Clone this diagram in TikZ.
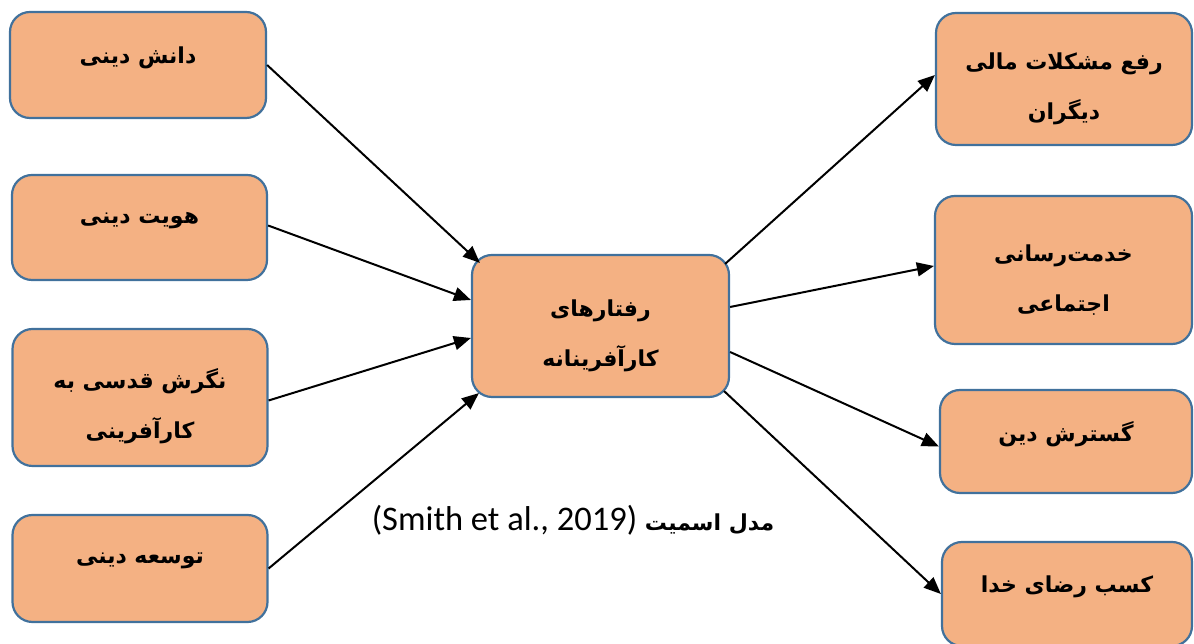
\documentclass[tikz,border=0pt]{standalone}
\usepackage{fontspec}
\usetikzlibrary{arrows.meta,calc}
\TeXXeTstate=1
\newfontfamily\fa[Script=Arabic]{DejaVu Sans}
\newfontfamily\lat{Carlito}
\definecolor{boxfill}{HTML}{F4B183}
\definecolor{boxline}{HTML}{41719C}
% invisible strut that lowers two-line labels a little
\newcommand\topgap{\rule{0pt}{37pt}}
\tikzset{
  box/.style={draw=boxline, fill=boxfill, line width=2.2pt, rounded corners=20pt,
    align=center, inner sep=0pt,
    font=\fa\bfseries\fontsize{22}{50}\selectfont},
  onebox/.style={box, text depth=20pt},
  twobox/.style={box},
  link/.style={line width=2pt, -{Triangle[length=17pt,width=14pt]}}
}
\begin{document}
\begin{tikzpicture}[x=1pt,y=1pt]
\useasboundingbox (0,0) rectangle (1194,644);

% inputs on the left
\node[onebox, minimum width=256pt, minimum height=106pt] (l1) at (138,579) {\beginR دانش دینی\endR};
\node[onebox, minimum width=255pt, minimum height=105pt] (l2) at (139.5,416.5) {\beginR هویت دینی\endR};
\node[twobox, minimum width=255pt, minimum height=137pt] (l3) at (140,246.5) {\topgap\beginR نگرش قدسی به\endR\\\beginR کارآفرینی\endR};
\node[onebox, minimum width=255pt, minimum height=107pt] (l4) at (140,75.5) {\beginR توسعه دینی\endR};

% central construct
\node[twobox, minimum width=257pt, minimum height=142pt] (c) at (600.5,318) {\topgap\beginR رفتارهای\endR\\\beginR کارآفرینانه\endR};

% outcomes on the right
\node[twobox, minimum width=256pt, minimum height=132pt] (r1) at (1064,565) {\topgap\beginR رفع مشکلات مالی\endR\\\beginR دیگران\endR};
\node[twobox, minimum width=257pt, minimum height=148pt] (r2) at (1063.5,374) {\topgap\beginR خدمت‌رسانی\endR\\\beginR اجتماعی\endR};
\node[onebox, minimum width=252pt, minimum height=103pt] (r3) at (1066,202.5) {\beginR گسترش دین\endR};
\node[onebox, minimum width=250pt, minimum height=104pt] (r4) at (1067,50) {\beginR کسب رضای خدا\endR};

% caption
\node[inner sep=0pt] (cap) at (573,124)
  {\fa\bfseries\fontsize{22}{26}\selectfont\beginR مدل اسمیت \beginL{\lat\mdseries\fontsize{34.5}{38}\selectfont (Smith et al., 2019)}\endL\endR};

% arrows into the central box
\draw[link] (l1.east) -- ($(c.north west)+(9,-9)$);
\draw[link] ($(l2.east)+(0,2)$) -- ($(c.west)+(0,26)$);
\draw[link] ($(l3.east)+(0,-3)$) -- ($(c.west)+(0,-12)$);
\draw[link] (l4.east) -- ($(c.south west)+(8,5)$);

% arrows out of the central box
\draw[link] ($(c.north east)+(-5,-10)$) -- ($(r1.west)+(0,4)$);
\draw[link] ($(c.east)+(0,19)$) -- ($(r2.west)+(0,4)$);
\draw[link] ($(c.east)+(0,-26)$) -- ($(r3.west)+(0,-5)$);
\draw[link] ($(c.south east)+(-6,7)$) -- (r4.west);
\end{tikzpicture}
\end{document}
